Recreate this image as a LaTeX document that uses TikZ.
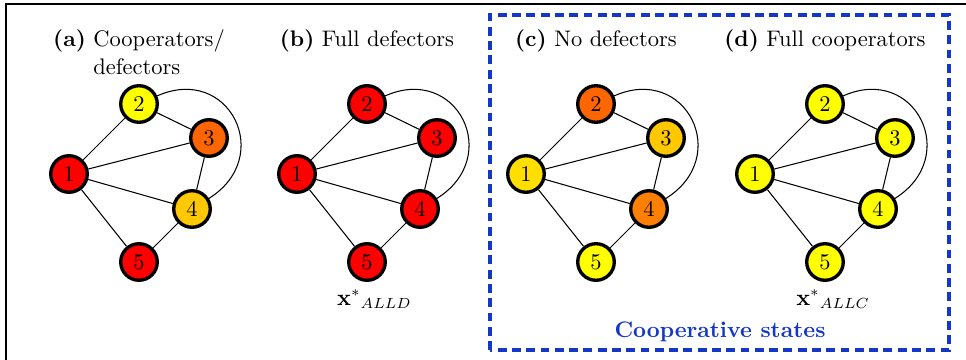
\documentclass[tikz,border=0pt]{standalone}
\usepackage{amsmath,amssymb}
\usepackage{xcolor}
\usepackage{tikz}
\usetikzlibrary{positioning,calc}

\definecolor{cyellow}{RGB}{255,255,0}
\definecolor{cgold}{RGB}{255,222,0}
\definecolor{camber}{RGB}{255,200,0}
\definecolor{corange}{RGB}{255,128,0}
\definecolor{cdark}{RGB}{255,102,0}
\definecolor{coopblue}{RGB}{20,55,200}

\begin{document}
\fontsize{10.7}{12.9}\selectfont
\begin{tikzpicture}[x = 0.476pt, y = 0.476pt,
    agent/.style = {circle, draw, line width = 1.6pt, minimum size = 17.4pt, inner sep = 0pt},
    link/.style = {line width = 0.5pt},
    coopbox/.style = {draw = coopblue, line width = 1.5pt, dash pattern = on 4.2pt off 2.6pt}]
    \useasboundingbox (0,0) rectangle (966,360);
    \draw[line width = 0.5pt] (6,0) |- (966,356);

    \foreach \p/\dx/\ca/\cb/\cc/\cd/\ce in {a/0/red/cyellow/cdark/camber/red,
                                            b/228/red/red/red/red/red,
                                            c/457/cgold/cdark/camber/corange/cyellow,
                                            d/686/cyellow/cyellow/cyellow/cyellow/cyellow} {
      \begin{scope}[shift = {(\dx,0)}]
        \node[agent, fill = \ca] (\p1) at (69,186) {1};
        \node[agent, fill = \cb] (\p2) at (139,256) {2};
        \node[agent, fill = \cc] (\p3) at (209,222) {3};
        \node[agent, fill = \cd] (\p4) at (192,151) {4};
        \node[agent, fill = \ce] (\p5) at (139,98) {5};
        \draw[link] (\p1) -- (\p2);
        \draw[link] (\p1) -- (\p3);
        \draw[link] (\p1) -- (\p4);
        \draw[link] (\p1) -- (\p5);
        \draw[link] (\p2) -- (\p3);
        \draw[link] (\p3) -- (\p4);
        \draw[link] (\p4) -- (\p5);
        \draw[link] (\p2) to[out = 24, in = 32, looseness = 1.75] (\p4);
      \end{scope}
    }

    \node[anchor = base] (ta) at (139,313) {\textbf{(a)} \begin{tabular}[t]{@{}l@{}}Cooperators/\\defectors\end{tabular}};
    \node[anchor = base] (tb) at (367,313) {\textbf{(b)} Full defectors};
    \node[anchor = base] (tc) at (596,313) {\textbf{(c)} No defectors};
    \node[anchor = base] (td) at (825,313) {\textbf{(d)} Full cooperators};

    \node[below = 0pt of b5, xshift = 3.5pt] (xalld) {${\mathbf{x}^*}_{ALLD}$};
    \node[below = 0pt of d5, xshift = 3.8pt] (xallc) {${\mathbf{x}^*}_{ALLC}$};

    \draw[coopbox] (490,10) rectangle (949,345);
    \node[anchor = base, text = coopblue, font = \bfseries] (coop) at (720,22) {Cooperative states};
  \end{tikzpicture}
\end{document}
